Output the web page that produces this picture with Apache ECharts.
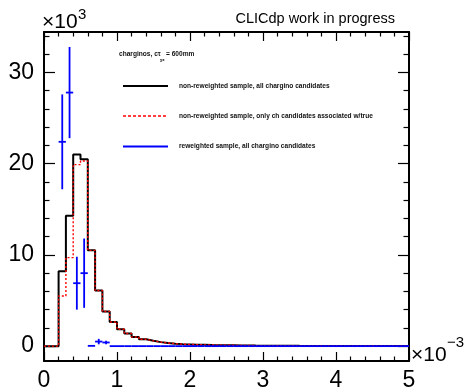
<!DOCTYPE html>
<html>
<head>
<meta charset="utf-8">
<script src="https://cdn.jsdelivr.net/npm/echarts@6/dist/echarts.min.js"></script>
<style>
  html, body { margin: 0; padding: 0; background: #fff; }
  #chart { width: 471px; height: 392px; }
</style>
</head>
<body>
<div id="chart"></div>
<script>
const FONT = '"Liberation Sans", Arial, Helvetica, sans-serif';
const BIN_WIDTH = 0.1;

// non-reweighted, all chargino candidates (x10^3), bins 0.0 .. 5.0 (x10^-3)
const allCandidates = [
  0, 0, 8.2, 14.3, 21.0, 20.5, 10.5, 6.1, 3.8, 2.65,
  1.85, 1.38, 1.0, 0.75, 0.58, 0.44, 0.34, 0.27, 0.22, 0.19,
  0.16, 0.14, 0.12, 0.11, 0.1, 0.09, 0.08, 0.07, 0.06, 0.055,
  0.05, 0.045, 0.04, 0.035, 0.03, 0.028, 0.025, 0.022, 0.02, 0.018,
  0.016, 0.015, 0.013, 0.012, 0.011, 0.01, 0.009, 0.008, 0.007, 0.006
];

// non-reweighted, only candidates associated w/ true chargino
const trueMatched = [
  0, 0, 5.5, 9.7, 19.9, 20.3, 10.5, 6.1, 3.8, 2.65,
  1.85, 1.38, 1.0, 0.75, 0.58, 0.44, 0.34, 0.27, 0.22, 0.19,
  0.16, 0.14, 0.12, 0.11, 0.1, 0.09, 0.08, 0.07, 0.06, 0.055,
  0.05, 0.045, 0.04, 0.035, 0.03, 0.028, 0.025, 0.022, 0.02, 0.018,
  0.016, 0.015, 0.013, 0.012, 0.011, 0.01, 0.009, 0.008, 0.007, 0.006
];

// reweighted sample, starts at bin 2 (0.2-0.3)
const REWEIGHTED_FIRST_BIN = 2;
const reweighted = [
  22.4, 27.8, 6.9, 8.0, 0.03, 0.5, 0.4, 0,
  0, 0, 0, 0, 0, 0, 0, 0, 0, 0,
  0, 0, 0, 0, 0, 0, 0, 0, 0, 0,
  0, 0, 0, 0, 0, 0, 0, 0, 0, 0,
  0, 0, 0, 0, 0, 0, 0, 0, 0, 0
];
const reweightedErr = [
  5.2, 5.0, 2.9, 3.8, 0, 0.3, 0.2, 0,
  0, 0, 0, 0, 0, 0, 0, 0, 0, 0,
  0, 0, 0, 0, 0, 0, 0, 0, 0, 0,
  0, 0, 0, 0, 0, 0, 0, 0, 0, 0,
  0, 0, 0, 0, 0, 0, 0, 0, 0, 0
];

const yMajorTicks = [0, 10, 20, 30];
const yMinorTicks = [2, 4, 6, 8, 12, 14, 16, 18, 22, 24, 26, 28, 32, 34];
const Y_MIN = -1.63;
const Y_MAX = 34.44;

const legendLabels = [
  'non-reweighted sample, all chargino candidates',
  'non-reweighted sample, only ch candidates associated w/true',
  'reweighted sample, all chargino candidates'
];

function histPoints(values) {
  const pts = values.map((v, i) => [i * BIN_WIDTH, v]);
  pts.push([values.length * BIN_WIDTH, values[values.length - 1]]);
  return pts;
}

const blueData = reweighted.map((v, i) => [(i + REWEIGHTED_FIRST_BIN + 0.5) * BIN_WIDTH, v, reweightedErr[i]]);

function xAxisFor(position) {
  return {
    type: 'value',
    position: position,
    min: 0,
    max: 5,
    interval: 1,
    axisLine: { show: true, onZero: false, lineStyle: { color: '#000', width: 2 } },
    axisTick: { show: true, inside: true, length: 9, lineStyle: { color: '#000', width: 1.2 } },
    minorTick: { show: true, splitNumber: 5, length: 4.5, lineStyle: { color: '#000', width: 1.2 } },
    axisLabel: {
      show: position === 'bottom',
      fontSize: 23,
      fontFamily: FONT,
      color: '#000',
      margin: 8
    },
    splitLine: { show: false }
  };
}

function yAxisFor(position, ticks, length, withLine, withLabel) {
  return {
    type: 'value',
    position: position,
    min: Y_MIN,
    max: Y_MAX,
    axisLine: { show: withLine, onZero: false, lineStyle: { color: '#000', width: 2 } },
    axisTick: { show: true, inside: true, length: length, customValues: ticks, lineStyle: { color: '#000', width: 1.2 } },
    axisLabel: {
      show: withLabel,
      customValues: ticks,
      fontSize: 23,
      fontFamily: FONT,
      color: '#000',
      margin: 10
    },
    splitLine: { show: false }
  };
}

const legendRows = [
  { y: 86, color: '#000', type: 'solid', width: 2 },
  { y: 116, color: '#ff0000', type: [3, 2], width: 1.5 },
  { y: 146.5, color: '#0000ff', type: 'solid', width: 1.8 }
];

const graphics = [
  { type: 'text', x: 42, y: 22, style: { text: '×10', font: '21px ' + FONT, fill: '#000', verticalAlign: 'middle' } },
  { type: 'text', x: 78, y: 15, style: { text: '3', font: '15px ' + FONT, fill: '#000', verticalAlign: 'middle' } },
  { type: 'text', x: 411, y: 355.5, style: { text: '×10', font: '21px ' + FONT, fill: '#000', verticalAlign: 'middle' } },
  { type: 'text', x: 447, y: 343, style: { text: '−3', font: '15px ' + FONT, fill: '#000', verticalAlign: 'middle' } },
  { type: 'text', x: 395, y: 19, style: { text: 'CLICdp work in progress', font: '14.5px ' + FONT, fill: '#000', align: 'right', verticalAlign: 'middle' } },
  { type: 'text', x: 119, y: 54, style: { text: 'charginos, cτ', font: 'bold 6.6px ' + FONT, fill: '#111', verticalAlign: 'middle' } },
  { type: 'text', x: 160, y: 59.5, style: { text: 'χ±', font: 'bold 4px ' + FONT, fill: '#111', verticalAlign: 'middle' } },
  { type: 'text', x: 166, y: 54, style: { text: '= 600mm', font: 'bold 6.6px ' + FONT, fill: '#111', verticalAlign: 'middle' } }
];
legendRows.forEach((row, i) => {
  graphics.push({
    type: 'line',
    shape: { x1: 123, y1: row.y, x2: 168, y2: row.y },
    style: { stroke: row.color, lineWidth: row.width, lineDash: row.type === 'solid' ? null : row.type }
  });
  graphics.push({
    type: 'text', x: 179, y: row.y,
    style: { text: legendLabels[i], font: 'bold 6.6px ' + FONT, fill: '#111', verticalAlign: 'middle' }
  });
});

const chart = echarts.init(document.getElementById('chart'), null, { renderer: 'canvas' });
chart.setOption({
  animation: false,
  backgroundColor: '#fff',
  grid: { left: 44, right: 62, top: 32, bottom: 30, containLabel: false },
  xAxis: [xAxisFor('bottom'), xAxisFor('top')],
  yAxis: [
    yAxisFor('left', yMajorTicks, 11, true, true),
    yAxisFor('left', yMinorTicks, 5.5, false, false),
    yAxisFor('right', yMajorTicks, 11, true, false),
    yAxisFor('right', yMinorTicks, 5.5, false, false)
  ],
  series: [
    {
      name: legendLabels[0],
      type: 'line',
      step: 'end',
      data: histPoints(allCandidates),
      symbol: 'none',
      lineStyle: { color: '#000', width: 2 },
      z: 2
    },
    {
      name: legendLabels[1],
      type: 'line',
      step: 'end',
      data: histPoints(trueMatched),
      symbol: 'none',
      lineStyle: { color: '#ff0000', width: 1.4, type: [2, 2] },
      z: 3
    },
    {
      name: legendLabels[2],
      type: 'custom',
      data: blueData,
      encode: { x: 0, y: 1 },
      clip: true,
      z: 4,
      renderItem: function (params, api) {
        const x = api.value(0);
        const y = api.value(1);
        const err = api.value(2);
        const style = { stroke: '#0000ff', lineWidth: 1.8 };
        const l = api.coord([x - BIN_WIDTH / 2, y]);
        const r = api.coord([x + BIN_WIDTH / 2, y]);
        const children = [{ type: 'line', shape: { x1: l[0], y1: l[1], x2: r[0], y2: r[1] }, style: style }];
        if (err > 0) {
          const t = api.coord([x, y + err]);
          const b = api.coord([x, y - err]);
          children.push({ type: 'line', shape: { x1: t[0], y1: t[1], x2: b[0], y2: b[1] }, style: style });
        }
        return { type: 'group', children: children };
      }
    }
  ],
  graphic: graphics
});
</script>
</body>
</html>
